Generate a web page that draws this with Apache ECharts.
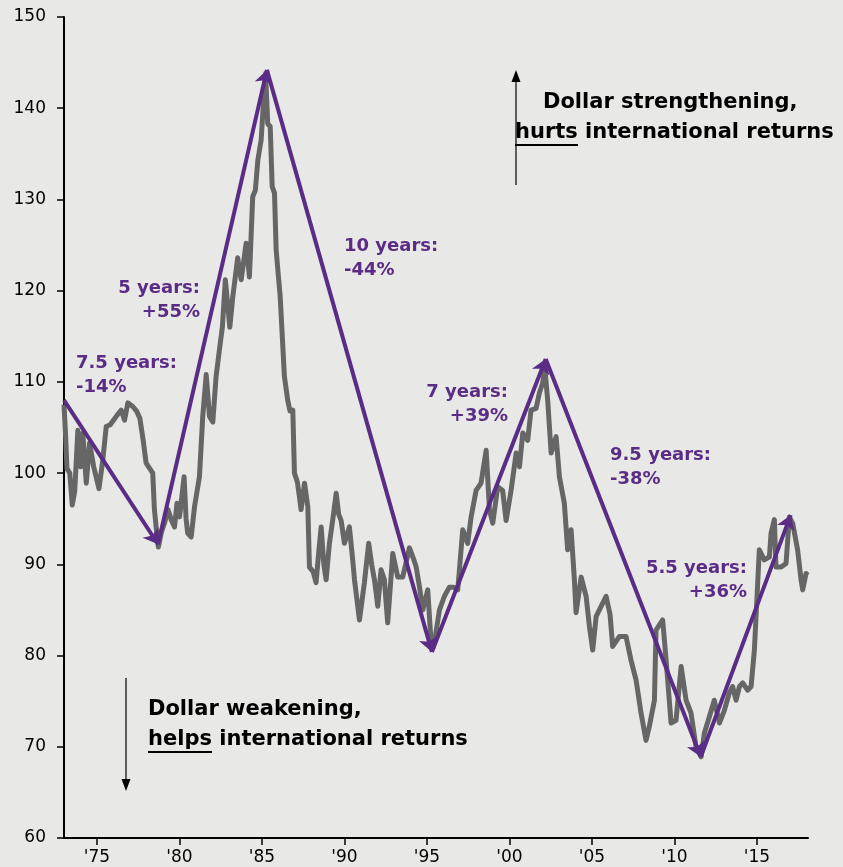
<!DOCTYPE html>
<html>
<head>
<meta charset="utf-8">
<script src="https://cdn.jsdelivr.net/npm/echarts@6/dist/echarts.min.js"></script>
<style>
  html, body { margin: 0; padding: 0; background: #e8e8e6; }
  #chart { width: 843px; height: 867px; }
</style>
</head>
<body>
<div id="chart"></div>
<script>
// dollar index (decimal year, index level)
var years = [
  1973.00, 1973.10, 1973.18, 1973.35, 1973.50, 1973.65, 1973.84, 1974.00, 1974.14, 1974.35,
  1974.55, 1974.80, 1975.12, 1975.35, 1975.56, 1975.80, 1976.00, 1976.20, 1976.47, 1976.67,
  1976.87, 1977.17, 1977.40, 1977.60, 1977.80, 1977.98, 1978.20, 1978.38, 1978.48, 1978.59,
  1978.72, 1978.90, 1979.09, 1979.30, 1979.50, 1979.70, 1979.85, 1980.00, 1980.15, 1980.28,
  1980.40, 1980.50, 1980.71, 1980.91, 1981.21, 1981.41, 1981.62, 1981.82, 1982.02, 1982.22,
  1982.42, 1982.60, 1982.78, 1982.95, 1983.05, 1983.23, 1983.53, 1983.74, 1984.04, 1984.24,
  1984.44, 1984.60, 1984.75, 1984.95, 1985.10, 1985.22, 1985.35, 1985.50, 1985.62, 1985.76,
  1985.86, 1986.00, 1986.10, 1986.36, 1986.56, 1986.70, 1986.87, 1986.97, 1987.15, 1987.30,
  1987.37, 1987.58, 1987.78, 1987.88, 1988.10, 1988.28, 1988.45, 1988.59, 1988.75, 1988.89,
  1989.09, 1989.30, 1989.50, 1989.65, 1989.80, 1990.00, 1990.30, 1990.50, 1990.61, 1990.91,
  1991.21, 1991.47, 1991.65, 1991.82, 1992.02, 1992.22, 1992.42, 1992.62, 1992.80, 1992.93,
  1993.23, 1993.53, 1993.94, 1994.15, 1994.35, 1994.55, 1994.75, 1995.05, 1995.25, 1995.35,
  1995.45, 1995.76, 1996.06, 1996.36, 1996.60, 1996.87, 1997.17, 1997.47, 1997.68, 1997.98,
  1998.28, 1998.59, 1998.79, 1998.99, 1999.29, 1999.59, 1999.80, 2000.10, 2000.41, 2000.61,
  2000.81, 2001.11, 2001.31, 2001.62, 2001.82, 2002.02, 2002.15, 2002.32, 2002.53, 2002.83,
  2003.03, 2003.33, 2003.53, 2003.74, 2003.94, 2004.04, 2004.35, 2004.65, 2004.85, 2005.05,
  2005.26, 2005.56, 2005.86, 2006.10, 2006.26, 2006.67, 2007.07, 2007.37, 2007.68, 2007.98,
  2008.28, 2008.48, 2008.79, 2008.89, 2009.29, 2009.50, 2009.80, 2010.10, 2010.41, 2010.71,
  2011.01, 2011.31, 2011.62, 2011.82, 2012.12, 2012.42, 2012.73, 2013.03, 2013.33, 2013.53,
  2013.74, 2013.94, 2014.14, 2014.44, 2014.65, 2014.85, 2015.05, 2015.15, 2015.45, 2015.76,
  2015.86, 2016.06, 2016.16, 2016.47, 2016.77, 2016.97, 2017.17, 2017.47, 2017.68, 2017.78,
  2017.98, 2018.08
];
var dollarIndex = [
  107.5, 104.0, 100.5, 100.0, 96.5, 98.0, 104.7, 100.7, 104.4, 98.9,
  103.3, 100.7, 98.3, 101.4, 105.1, 105.3, 105.8, 106.3, 106.9, 105.8,
  107.7, 107.3, 106.8, 106.0, 103.6, 101.1, 100.5, 100.0, 96.0, 94.0,
  91.9, 93.5, 94.5, 96.0, 94.9, 94.1, 96.7, 95.2, 97.5, 99.6,
  95.0, 93.4, 93.0, 96.3, 99.6, 106.2, 110.8, 106.2, 105.6, 110.6,
  113.5, 116.0, 121.2, 118.0, 116.0, 119.3, 123.6, 121.2, 125.2, 121.5,
  130.3, 131.0, 134.3, 136.5, 140.9, 143.8, 138.3, 138.0, 131.4, 130.7,
  124.5, 121.5, 119.5, 110.6, 108.0, 106.8, 106.9, 100.0, 99.0, 97.0,
  96.0, 98.9, 96.3, 89.7, 89.2, 88.0, 91.5, 94.1, 90.0, 88.3,
  92.3, 95.0, 97.8, 95.5, 94.8, 92.3, 94.1, 90.5, 88.3, 83.9,
  88.0, 92.3, 90.0, 88.3, 85.4, 89.4, 88.3, 83.6, 88.0, 91.2,
  88.6, 88.6, 91.8, 90.8, 89.7, 87.5, 85.0, 87.2, 81.5, 80.8,
  81.4, 85.0, 86.5, 87.5, 87.5, 87.2, 93.8, 92.3, 95.2, 98.1,
  98.9, 102.5, 96.0, 94.5, 98.5, 98.1, 94.8, 98.1, 102.2, 100.7,
  104.4, 103.6, 106.9, 107.1, 108.8, 109.9, 111.5, 108.0, 102.2, 104.0,
  99.6, 96.7, 91.6, 93.8, 88.3, 84.7, 88.6, 86.5, 83.2, 80.6,
  84.3, 85.4, 86.5, 84.5, 81.0, 82.1, 82.1, 79.5, 77.3, 73.7,
  70.7, 72.2, 75.1, 82.8, 83.9, 79.5, 72.6, 72.9, 78.8, 75.1,
  73.7, 70.0, 68.9, 71.5, 73.3, 75.1, 72.6, 74.0, 75.9, 76.6,
  75.1, 76.6, 77.0, 76.2, 76.6, 80.6, 87.9, 91.6, 90.5, 90.8,
  93.4, 94.9, 89.7, 89.7, 90.1, 95.2, 94.5, 91.6, 88.3, 87.2,
  89.0, 88.8
];

// trend arrows: turning points (year, level)
var turnYears = [1973.0, 1978.7, 1985.3, 1995.3, 2002.2, 2011.6, 2017.05];
var turnLevels = [108.0, 92.2, 144.2, 80.4, 112.5, 68.9, 95.4];
var cycleLabels = [
  ['7.5 years:', '-14%'],
  ['5 years:', '+55%'],
  ['10 years:', '-44%'],
  ['7 years:', '+39%'],
  ['9.5 years:', '-38%'],
  ['5.5 years:', '+36%']
];

var xTicks = [1975, 1980, 1985, 1990, 1995, 2000, 2005, 2010, 2015];

var purple = '#5b2c86';
var gray = '#666666';
var purpleFont = 'bold 18px "DejaVu Sans"';
var blackFont = 'bold 21px "DejaVu Sans"';

var linePoints = years.map(function (y, i) { return [y, dollarIndex[i]]; });

var arrowData = [];
for (var i = 0; i < turnYears.length - 1; i++) {
  arrowData.push({ coords: [[turnYears[i], turnLevels[i]], [turnYears[i + 1], turnLevels[i + 1]]] });
}

// label placement for each arrow (pixel position + alignment)
var labelPos = [
  { x: 76, y: 363, align: 'left' },
  { x: 200, y: 288, align: 'right' },
  { x: 344, y: 246, align: 'left' },
  { x: 508, y: 392, align: 'right' },
  { x: 610, y: 455, align: 'left' },
  { x: 747, y: 568, align: 'right' }
];

var graphics = [];
cycleLabels.forEach(function (lines, i) {
  var p = labelPos[i];
  lines.forEach(function (t, k) {
    graphics.push({
      type: 'text', x: p.x, y: p.y + k * 24, z: 100,
      style: { text: t, font: purpleFont, fill: purple, textAlign: p.align, textVerticalAlign: 'middle' }
    });
  });
});

function blackText(t, x, y) {
  return { type: 'text', x: x, y: y, z: 100,
    style: { text: t, font: blackFont, fill: '#000', textAlign: 'left', textVerticalAlign: 'middle' } };
}
graphics.push(blackText('Dollar strengthening,', 543, 103));
graphics.push(blackText('hurts international returns', 515, 133));
graphics.push({ type: 'line', z: 100, shape: { x1: 515, y1: 145, x2: 578, y2: 145 }, style: { stroke: '#000', lineWidth: 2 } });
graphics.push(blackText('Dollar weakening,', 148, 710));
graphics.push(blackText('helps international returns', 148, 740));
graphics.push({ type: 'line', z: 100, shape: { x1: 148, y1: 752, x2: 212, y2: 752 }, style: { stroke: '#000', lineWidth: 2 } });

// direction arrows
graphics.push({ type: 'line', z: 100, shape: { x1: 516, y1: 185, x2: 516, y2: 80 }, style: { stroke: '#000', lineWidth: 1.2 } });
graphics.push({ type: 'polygon', z: 100, shape: { points: [[516, 70], [511.5, 82], [520.5, 82]] }, style: { fill: '#000' } });
graphics.push({ type: 'line', z: 100, shape: { x1: 126, y1: 678, x2: 126, y2: 781 }, style: { stroke: '#000', lineWidth: 1.2 } });
graphics.push({ type: 'polygon', z: 100, shape: { points: [[126, 791], [121.5, 779], [130.5, 779]] }, style: { fill: '#000' } });

var chart = echarts.init(document.getElementById('chart'));
chart.setOption({
  backgroundColor: '#e8e8e6',
  animation: false,
  grid: { left: 64, right: 35, top: 17, bottom: 29 },
  xAxis: {
    type: 'value',
    min: 1973,
    max: 2018.1,
    splitLine: { show: false },
    axisLine: { lineStyle: { color: '#000', width: 2 } },
    axisTick: { customValues: xTicks, length: 7, lineStyle: { color: '#000', width: 1.5 } },
    axisLabel: {
      customValues: xTicks,
      margin: 11,
      color: '#000',
      fontFamily: 'DejaVu Sans',
      fontSize: 17,
      formatter: function (v) { return "'" + String(v).slice(2); }
    }
  },
  yAxis: {
    type: 'value',
    min: 60,
    max: 150,
    interval: 10,
    splitLine: { show: false },
    axisLine: { show: true, lineStyle: { color: '#000', width: 2 } },
    axisTick: { show: true, length: 7, lineStyle: { color: '#000', width: 1.5 } },
    axisLabel: { margin: 18, color: '#000', fontFamily: 'DejaVu Sans', fontSize: 17 }
  },
  series: [
    {
      type: 'line',
      data: linePoints,
      showSymbol: false,
      lineStyle: { color: gray, width: 5, join: 'round' },
      z: 2
    },
    {
      type: 'lines',
      coordinateSystem: 'cartesian2d',
      data: arrowData,
      symbol: ['none', 'arrow'],
      symbolSize: 14,
      lineStyle: { color: purple, width: 4, opacity: 1 },
      itemStyle: { color: purple },
      z: 5
    }
  ],
  graphic: graphics
});
</script>
</body>
</html>
